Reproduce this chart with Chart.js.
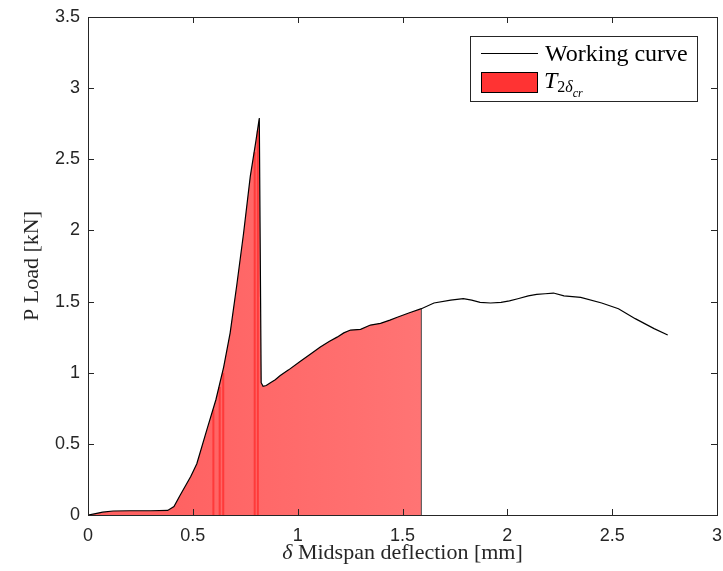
<!DOCTYPE html>
<html lang="en">
<head>
    <meta charset="UTF-8">
    <title>Working curve</title>
    <script src="https://cdn.jsdelivr.net/npm/chart.js@4.4.1/dist/chart.umd.min.js"></script>
    <style>
        body {
            margin: 0;
            background-color: #fff;
        }
        #wrap {
            width: 723px;
            height: 571px;
        }
    </style>
</head>
<body>
    <div id="wrap"><canvas id="loadChart" width="723" height="571"></canvas></div>

    <script>
        // deflection (mm) and load (kN)
        const curveX = [0, 0.03, 0.07, 0.12, 0.2, 0.3, 0.38, 0.41, 0.44, 0.49, 0.519, 0.567, 0.61, 0.647, 0.678, 0.71, 0.742, 0.774, 0.80, 0.817,
            0.826, 0.835, 0.85, 0.87, 0.893, 0.917, 0.957, 1.013, 1.06, 1.108, 1.15, 1.188, 1.22, 1.252, 1.30, 1.347, 1.395, 1.44, 1.475, 1.53, 1.59,
            1.65, 1.73, 1.79, 1.83, 1.87, 1.92, 1.97, 2.01, 2.05, 2.1, 2.14, 2.18, 2.22, 2.27, 2.35, 2.45, 2.53, 2.61, 2.70, 2.765];
        const curveY = [0, 0.008, 0.02, 0.028, 0.03, 0.03, 0.032, 0.06, 0.14, 0.27, 0.36, 0.60, 0.81, 1.04, 1.28, 1.62, 1.98, 2.38, 2.62, 2.79,
            0.93, 0.905, 0.91, 0.93, 0.95, 0.98, 1.02, 1.08, 1.13, 1.18, 1.22, 1.25, 1.28, 1.30, 1.305, 1.335, 1.347, 1.37, 1.39, 1.42, 1.45,
            1.49, 1.51, 1.52, 1.51, 1.495, 1.49, 1.495, 1.505, 1.52, 1.54, 1.55, 1.555, 1.56, 1.54, 1.53, 1.49, 1.45, 1.38, 1.31, 1.265];

        // end of the shaded work region T_2δcr
        const areaEnd = 1.59;

        // darker vertical streaks inside the shaded patch
        const stripeX = [0.598, 0.628, 0.645, 0.795, 0.81];
        const stripeTop = [0.74, 0.9, 1.0, 2.55, 2.7];

        const xTicks = [0, 0.5, 1, 1.5, 2, 2.5, 3];
        const yTicks = [0, 0.5, 1, 1.5, 2, 2.5, 3, 3.5];

        const curvePts = curveX.map((x, i) => ({ x: x, y: curveY[i] }));
        const areaPts = curvePts.filter(p => p.x <= areaEnd);
        areaPts.push({ x: areaEnd, y: 0 });

        const stripePts = [];
        stripeX.forEach((x, i) => {
            stripePts.push({ x: x, y: 0 }, { x: x, y: stripeTop[i] }, { x: x, y: null });
        });

        const axisColor = "#262626";
        const serif = '"Liberation Serif", "Times New Roman", serif';
        const sans = '"Liberation Sans", Arial, sans-serif';

        const frame = {
            id: "frame",
            afterDatasetsDraw(chart) {
                const { ctx, chartArea: a, scales } = chart;
                ctx.save();
                ctx.strokeStyle = axisColor;
                ctx.lineWidth = 1;
                ctx.strokeRect(a.left + 0.5, a.top + 0.5, a.right - a.left, a.bottom - a.top);
                // inward tick marks
                ctx.beginPath();
                xTicks.forEach(v => {
                    const px = Math.round(scales.x.getPixelForValue(v)) + 0.5;
                    ctx.moveTo(px, a.bottom); ctx.lineTo(px, a.bottom - 6);
                    ctx.moveTo(px, a.top); ctx.lineTo(px, a.top + 6);
                });
                yTicks.forEach(v => {
                    const py = Math.round(scales.y.getPixelForValue(v)) + 0.5;
                    ctx.moveTo(a.left, py); ctx.lineTo(a.left + 6, py);
                    ctx.moveTo(a.right, py); ctx.lineTo(a.right - 6, py);
                });
                ctx.stroke();

                // legend
                const lx = 470.5, ly = 36.5, lw = 227, lh = 65;
                ctx.fillStyle = "#fff";
                ctx.fillRect(lx, ly, lw, lh);
                ctx.strokeRect(lx, ly, lw, lh);
                ctx.strokeStyle = "#000";
                ctx.lineWidth = 1.2;
                ctx.beginPath();
                ctx.moveTo(481, 53.5); ctx.lineTo(538, 53.5);
                ctx.stroke();
                ctx.fillStyle = "#ff3333";
                ctx.fillRect(481, 72, 57, 21);
                ctx.lineWidth = 1;
                ctx.strokeRect(481.5, 72.5, 56, 20);

                ctx.fillStyle = "#000";
                ctx.textBaseline = "alphabetic";
                ctx.textAlign = "left";
                ctx.font = "24px " + serif;
                ctx.fillText("Working curve", 545, 61);
                ctx.font = "italic 24px " + serif;
                ctx.fillText("T", 544, 88);
                let tx = 544 + ctx.measureText("T").width;
                ctx.font = "16px " + serif;
                ctx.fillText("2", tx, 92);
                tx += ctx.measureText("2").width;
                ctx.font = "italic 16px " + serif;
                ctx.fillText("δ", tx, 92);
                tx += ctx.measureText("δ").width;
                ctx.font = "italic 12px " + serif;
                ctx.fillText("cr", tx, 97);

                // axis titles
                ctx.fillStyle = axisColor;
                const rest = " Midspan deflection [mm]";
                ctx.font = "italic 22px " + serif;
                const dW = ctx.measureText("δ").width;
                ctx.font = "22px " + serif;
                const rW = ctx.measureText(rest).width;
                const cx = (a.left + a.right) / 2 - (dW + rW) / 2;
                ctx.font = "italic 22px " + serif;
                ctx.fillText("δ", cx, 559);
                ctx.font = "22px " + serif;
                ctx.fillText(rest, cx + dW, 559);

                ctx.translate(38, (a.top + a.bottom) / 2);
                ctx.rotate(-Math.PI / 2);
                ctx.textAlign = "center";
                ctx.fillText("P Load [kN]", 0, 0);
                ctx.restore();
            }
        };

        function areaFill(context) {
            const { ctx, chartArea, scales } = context.chart;
            if (!chartArea) return "#ff6b6b";
            const g = ctx.createLinearGradient(scales.x.getPixelForValue(0.4), 0, scales.x.getPixelForValue(areaEnd), 0);
            g.addColorStop(0, "#ff6262");
            g.addColorStop(1, "#ff7474");
            return g;
        }

        new Chart(document.getElementById("loadChart"), {
            type: "line",
            data: {
                datasets: [
                    {
                        label: "Working curve",
                        data: curvePts,
                        borderColor: "#000",
                        borderWidth: 1.2,
                        pointRadius: 0,
                        fill: false,
                        tension: 0
                    },
                    {
                        label: "edge",
                        data: [{ x: areaEnd, y: 0 }, { x: areaEnd, y: curveY[curveX.indexOf(areaEnd)] }],
                        borderColor: "#4d4d4d",
                        borderWidth: 1,
                        pointRadius: 0,
                        fill: false
                    },
                    {
                        label: "stripes",
                        data: stripePts,
                        borderColor: "#ff3a3a",
                        borderWidth: 2,
                        pointRadius: 0,
                        spanGaps: false,
                        fill: false
                    },
                    {
                        label: "T2δcr",
                        data: areaPts,
                        borderWidth: 0,
                        borderColor: "rgba(0,0,0,0)",
                        backgroundColor: areaFill,
                        pointRadius: 0,
                        fill: "origin",
                        tension: 0
                    }
                ]
            },
            options: {
                responsive: false,
                animation: false,
                layout: {
                    padding: { top: 17, right: 6, left: 0, bottom: 0 }
                },
                plugins: {
                    legend: { display: false },
                    tooltip: { enabled: false }
                },
                scales: {
                    x: {
                        type: "linear",
                        min: 0,
                        max: 3,
                        afterFit: s => { s.height = 56; s.paddingLeft = 0; s.paddingRight = 0; },
                        afterBuildTicks: s => { s.ticks = xTicks.map(v => ({ value: v })); },
                        grid: { display: false, drawTicks: false },
                        border: { display: false },
                        ticks: {
                            padding: 10,
                            color: axisColor,
                            font: { size: 18, family: sans },
                            maxRotation: 0,
                            callback: v => String(v)
                        }
                    },
                    y: {
                        type: "linear",
                        min: 0,
                        max: 3.5,
                        afterFit: s => { s.width = 88; s.paddingTop = 0; s.paddingBottom = 0; },
                        afterBuildTicks: s => { s.ticks = yTicks.map(v => ({ value: v })); },
                        grid: { display: false, drawTicks: false },
                        border: { display: false },
                        ticks: {
                            padding: 8,
                            color: axisColor,
                            font: { size: 18, family: sans },
                            callback: v => String(v)
                        }
                    }
                }
            },
            plugins: [frame]
        });
    </script>
</body>
</html>
